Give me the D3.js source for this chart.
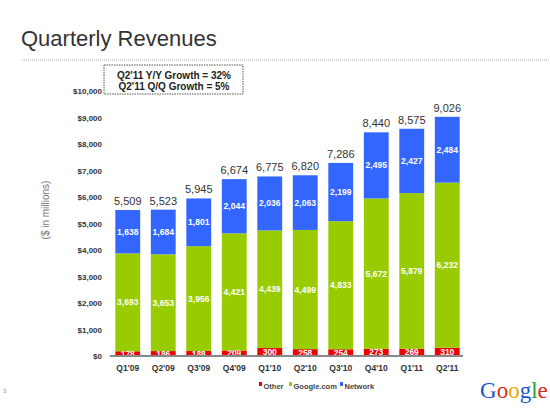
<!DOCTYPE html>
<html>
<head>
<meta charset="utf-8">
<script src="https://cdn.jsdelivr.net/npm/d3@7"></script>
<style>
  body { margin: 0; background: #fff; }
  text { font-family: Arial, "Liberation Sans", sans-serif; }
</style>
</head>
<body>
<div id="chart"></div>
<script>
const quarters = ["Q1'09", "Q2'09", "Q3'09", "Q4'09", "Q1'10", "Q2'10", "Q3'10", "Q4'10", "Q1'11", "Q2'11"];
const other = [178, 186, 188, 209, 300, 258, 254, 273, 269, 310];
const googleCom = [3693, 3653, 3956, 4421, 4439, 4499, 4833, 5672, 5879, 6232];
const network = [1638, 1684, 1801, 2044, 2036, 2063, 2199, 2495, 2427, 2484];
const totals = [5509, 5523, 5945, 6674, 6775, 6820, 7286, 8440, 8575, 9026];
const yTicks = [0, 1000, 2000, 3000, 4000, 5000, 6000, 7000, 8000, 9000, 10000];
const seriesNames = ["Other", "Google.com", "Network"];
const seriesColors = ["#ee0000", "#99cc00", "#3366ff"];
const growthLines = ["Q2'11 Y/Y Growth = 32%", "Q2'11 Q/Q Growth = 5%"];

const W = 550, H = 408;
const svg = d3.select("#chart").append("svg")
  .attr("width", W).attr("height", H);

// title
svg.append("text")
  .attr("x", 21).attr("y", 46)
  .style("font-size", "22px").style("fill", "#333")
  .text("Quarterly Revenues");

svg.append("line")
  .attr("x1", 22).attr("x2", 550).attr("y1", 60).attr("y2", 60)
  .style("stroke", "#aaa").style("stroke-width", 1)
  .style("stroke-dasharray", "1,1");

const x = d3.scaleBand().domain(quarters).range([110, 465]).paddingInner(0.3).paddingOuter(0.15);
const y = d3.scaleLinear().domain([0, 10000]).range([356, 91]);

// y axis labels
svg.append("g")
  .attr("transform", "translate(110,0)")
  .call(d3.axisLeft(y).tickValues(yTicks).tickSize(0).tickPadding(8)
    .tickFormat(d => "$" + d3.format(",")(d)))
  .call(g => g.select(".domain").remove())
  .selectAll("text")
  .style("font-size", "8px").style("font-weight", "bold")
  .style("fill", "#333").style("font-family", "Arial, 'Liberation Sans', sans-serif");

svg.append("text")
  .attr("transform", "translate(49,210) rotate(-90)")
  .attr("text-anchor", "middle")
  .style("font-size", "10px").style("fill", "#777")
  .text("($ in millions)");

// stacked bars
const rows = quarters.map((q, i) => ({ q, Other: other[i], "Google.com": googleCom[i], Network: network[i], total: totals[i] }));
const stacked = d3.stack().keys(seriesNames)(rows);

const layers = svg.append("g").selectAll("g")
  .data(stacked).enter().append("g")
  .style("fill", (d, i) => seriesColors[i]);

layers.selectAll("rect")
  .data(d => d).enter().append("rect")
  .attr("x", d => x(d.data.q))
  .attr("y", d => y(d[1]))
  .attr("width", x.bandwidth())
  .attr("height", d => y(d[0]) - y(d[1]));

layers.selectAll("text")
  .data(d => d).enter().append("text")
  .attr("x", d => x(d.data.q) + x.bandwidth() / 2)
  .attr("y", d => (y(d[0]) + y(d[1])) / 2 + 3)
  .attr("text-anchor", "middle")
  .style("font-size", "8.5px").style("font-weight", "bold").style("fill", "#fff")
  .text(d => d3.format(",")(d[1] - d[0]));

// totals
svg.append("g").selectAll("text")
  .data(rows).enter().append("text")
  .attr("x", d => x(d.q) + x.bandwidth() / 2)
  .attr("y", d => y(d.total) - 5)
  .attr("text-anchor", "middle")
  .style("font-size", "11px").style("fill", "#333")
  .text(d => d3.format(",")(d.total));

// baseline
svg.append("line")
  .attr("x1", 110).attr("x2", 463).attr("y1", y(0)).attr("y2", y(0))
  .style("stroke", "#888").style("stroke-width", 2);

// x labels
svg.append("g")
  .attr("transform", `translate(0,${y(0)})`)
  .call(d3.axisBottom(x).tickSize(0).tickPadding(9))
  .call(g => g.select(".domain").remove())
  .selectAll("text")
  .style("font-size", "8.5px").style("font-weight", "bold")
  .style("fill", "#333").style("font-family", "Arial, 'Liberation Sans', sans-serif");

// legend
const legendX = [259, 289, 340];
const legend = svg.append("g").selectAll("g")
  .data(seriesNames).enter().append("g")
  .attr("transform", (d, i) => `translate(${legendX[i]},389)`);
legend.append("rect")
  .attr("x", 0).attr("y", -7).attr("width", 3).attr("height", 4)
  .style("fill", (d, i) => seriesColors[i]);
legend.append("text")
  .attr("x", 4.5).attr("y", 0)
  .style("font-size", "7.5px").style("font-weight", "bold").style("fill", "#444")
  .text(d => d);

// growth box
svg.append("rect")
  .attr("x", 104).attr("y", 65).attr("width", 139).attr("height", 29)
  .style("fill", "none").style("stroke", "#555").style("stroke-width", 1)
  .style("stroke-dasharray", "1.5,1");
svg.append("g").selectAll("text")
  .data(growthLines).enter().append("text")
  .attr("x", 174).attr("y", (d, i) => 79 + i * 11)
  .attr("text-anchor", "middle")
  .style("font-size", "10px").style("font-weight", "bold").style("fill", "#222")
  .text(d => d);

// page number
svg.append("text")
  .attr("x", 3).attr("y", 393)
  .style("font-size", "6px").style("fill", "#999")
  .text("3");

// logo
const logoLetters = ["G", "o", "o", "g", "l", "e"];
const logoColors = ["#1a57c9", "#d62d20", "#e8a800", "#1a57c9", "#2f9e2f", "#d62d20"];
const logo = svg.append("text")
  .attr("x", 480).attr("y", 398)
  .style("font-family", "'Liberation Serif', 'DejaVu Serif', serif")
  .style("font-size", "23px");
logo.selectAll("tspan")
  .data(logoLetters).enter().append("tspan")
  .style("fill", (d, i) => logoColors[i])
  .text(d => d);
</script>
</body>
</html>
